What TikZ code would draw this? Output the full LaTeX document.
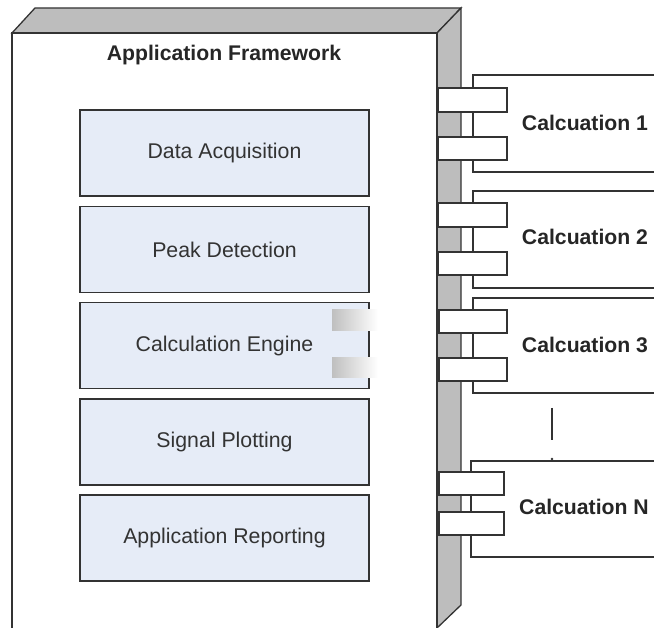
\documentclass[tikz,border=0pt]{standalone}
\usepackage{fontspec}
\setmainfont{Liberation Sans}
\begin{document}
\begin{tikzpicture}[x=1pt,y=-1pt,
  edge/.style={draw=black!80,line width=1.3pt,line join=miter},
  face/.style={edge,fill=black!26},
  blk/.style={edge,fill={rgb,255:red,230;green,236;blue,247},minimum width=289pt,minimum height=86pt,inner sep=0pt,font=\fontsize{21.3}{25}\selectfont,text=black!80},
  port/.style={edge,fill=white,line width=1.1pt},
  comp/.style={draw=black!80,line width=1.1pt},
  clabel/.style={font=\fontsize{21.2}{25}\selectfont\bfseries,text=black!85},
  ghost/.style={left color=black!25,right color=white,draw=none}]
\useasboundingbox (0,0) rectangle (654,628);
\clip (0,0) rectangle (654,628);
\fill[white] (0,0) rectangle (654,628);
% main framework box
\path[face] (12,33) -- (35,8) -- (461,8) -- (437,33) -- cycle;
\path[face] (437,33) -- (461,8) -- (461,605) -- (437,628) -- (437,640) -- cycle;
\path[edge,fill=white] (12,640) -- (12,33) -- (437,33) -- (437,640);
\node[clabel] (title) at (224,55) {Application Framework};
% inner blocks
\node[blk] (da) at (224.5,153) {Data Acquisition};
\node[blk] (pd) at (224.5,249.5) {Peak Detection};
\node[blk] (ce) at (224.5,345.5) {Calculation Engine};
\node[blk] (sp) at (224.5,442) {Signal Plotting};
\node[blk] (ar) at (224.5,538) {Application Reporting};
\path[ghost] (332,310) rectangle (378,331);
\path[ghost] (332,358) rectangle (378,378);
% calculation components
\draw[comp] (670,75) -- (473,75) -- (473,172) -- (670,172);
\draw[comp] (670,191) -- (473,191) -- (473,288) -- (670,288);
\draw[comp] (670,298) -- (473,298) -- (473,393) -- (670,393);
\draw[comp] (670,461) -- (471,461) -- (471,557) -- (670,557);
\node[clabel] (c1) at (585,123) {Calcuation 1};
\node[clabel] (c2) at (585,237) {Calcuation 2};
\node[clabel] (c3) at (585,345) {Calcuation 3};
\node[clabel] (cn) at (584,507) {Calcuation N};
% ports
\draw[port] (438,88) rectangle (507,112);
\draw[port] (438,137) rectangle (507,160);
\draw[port] (438,203) rectangle (507,227);
\draw[port] (438,252) rectangle (507,275);
\draw[port] (439,310) rectangle (507,333);
\draw[port] (439,358) rectangle (507,381);
\draw[port] (439,472) rectangle (504,495);
\draw[port] (439,512) rectangle (504,535);
% ellipsis
\coordinate (e1) at (552,408);
\coordinate (e2) at (552,440);
\draw[comp] (e1) -- (e2);
\fill[black!80] (552,459) circle (1.3pt);
\end{tikzpicture}
\end{document}
